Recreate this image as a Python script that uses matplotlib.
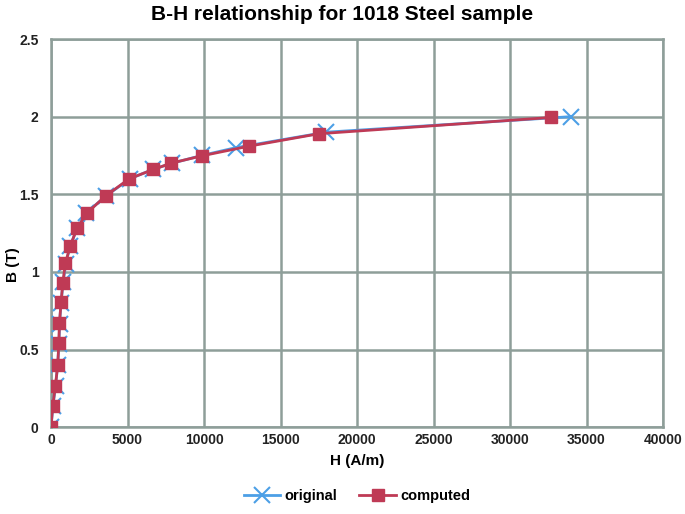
import matplotlib.pyplot as plt
import numpy as np

# B-H data
h_computed = [0, 110, 285, 440, 505, 550, 660, 770, 940, 1270, 1690, 2350,
              3575, 5110, 6690, 7830, 9870, 12940, 17500, 32680]
b_computed = [0, 0.135, 0.267, 0.40, 0.54, 0.673, 0.808, 0.93, 1.058, 1.17,
              1.28, 1.38, 1.49, 1.60, 1.66, 1.70, 1.748, 1.81, 1.89, 1.995]

h_original = [0, 120, 300, 430, 520, 560, 650, 790, 960, 1250, 1720, 2300,
              3600, 5150, 6650, 7900, 9850, 12060, 17980, 33950]
b_original = [0, 0.133, 0.267, 0.40, 0.533, 0.667, 0.80, 0.933, 1.05, 1.17,
              1.28, 1.38, 1.49, 1.60, 1.66, 1.70, 1.75, 1.80, 1.90, 2.0]

x_ticks = np.arange(0, 40001, 5000)
y_ticks = [0, 0.5, 1, 1.5, 2, 2.5]
y_tick_labels = ['0', '0.5', '1', '1.5', '2', '2.5']

plt.rcParams['font.family'] = ['Liberation Sans', 'DejaVu Sans']

fig = plt.figure(figsize=(6.85, 5.14), dpi=100)
ax = fig.add_axes([0.0745, 0.169, 0.8935, 0.755])

blue = '#4c9fe6'
red = '#bf3a55'
grid = '#8e9e99'

ax.plot(h_original, b_original, color=blue, lw=2, marker='x', ms=11,
        mew=1.5, label='original', zorder=3)
ax.plot(h_computed, b_computed, color=red, lw=2, marker='s', ms=9,
        label='computed', zorder=4)

ax.set_xlim(0, 40000)
ax.set_ylim(0, 2.5)
ax.set_xticks(x_ticks)
ax.set_yticks(y_ticks)
ax.set_yticklabels(y_tick_labels)
ax.grid(True, color=grid, lw=1.8)
ax.set_axisbelow(True)
for s in ax.spines.values():
    s.set_color(grid)
    s.set_linewidth(1.8)
ax.tick_params(axis='x', length=0, labelsize=10, pad=4)
ax.tick_params(axis='y', length=0, labelsize=10, pad=9)
for lab in ax.get_xticklabels() + ax.get_yticklabels():
    lab.set_fontweight('bold')
    lab.set_color('#222222')

fig.text(0.5, 1 - 15 / 514, 'B-H relationship for 1018 Steel sample',
         fontsize=15, fontweight='bold', ha='center', va='center')
ax.set_xlabel('H (A/m)', fontsize=11, fontweight='bold', labelpad=5)
fig.text(13 / 685, 1 - 265 / 514, 'B (T)', fontsize=11, fontweight='bold',
         rotation=90, ha='center', va='center')

leg = ax.legend(loc='upper center', bbox_to_anchor=(0.5, -0.125), ncol=2,
                frameon=False, fontsize=10.5, handlelength=2.5,
                columnspacing=1.5, handletextpad=0.3)
for t in leg.get_texts():
    t.set_fontweight('bold')

fig.savefig('out.png', dpi=100)
